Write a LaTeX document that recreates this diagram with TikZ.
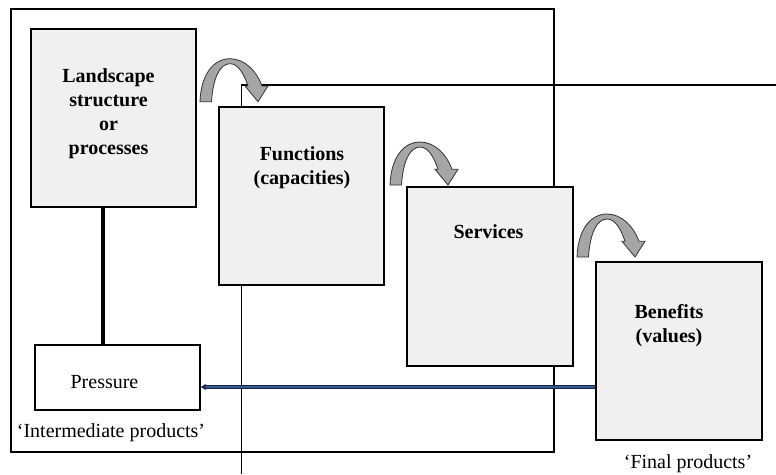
\documentclass[tikz,border=0pt]{standalone}
\usepackage{fontspec}
\setmainfont{Liberation Serif}
\usepackage{tikz}
\usetikzlibrary{positioning}
\usetikzlibrary{arrows.meta}

\definecolor{boxgray}{RGB}{240,240,240}
\definecolor{bendgray}{RGB}{165,165,165}
\definecolor{flownavy}{RGB}{25,35,70}
\definecolor{flowblue}{RGB}{50,90,165}

\begin{document}
\begin{tikzpicture}
    [x=1pt, y=-1pt,
    every node/.style={font=\fontsize{20}{24}\selectfont, inner sep=0pt},
    frame/.style={draw=black, line width=1.1pt},
    box/.style={draw=black, fill=boxgray, line width=1.3pt, rectangle},
    plainbox/.style={draw=black, fill=white, line width=1.3pt, rectangle},
    stem/.style={draw=black, line width=3.2pt},
    flow/.style={draw=flownavy, double=flowblue, double distance=1.6pt,
        line width=1.2pt, -{Latex[length=5pt, width=7pt]}},
    lbl/.style={align=center, font=\fontsize{20}{24}\selectfont\bfseries},
    bendarrow/.pic={
        \filldraw[fill=bendgray, draw=black!80, line width=0.8pt]
            (0,0) .. controls (1,-28) and (14,-43) .. (30,-43)
            .. controls (45,-43) and (57,-30) .. (62,-15.7)
            -- (68,-15.7) -- (58,0) -- (45,-15.7) -- (48,-15.7)
            .. controls (44,-28) and (38,-38) .. (30,-38)
            .. controls (20,-38) and (13,-24) .. (11.5,0) -- cycle;
    }]

    \useasboundingbox (0,0) rectangle (776,474);

    % the two frames
    \draw[frame] (11,9) rectangle (554,452);
    \coordinate (frcorner) at (241.5,85);
    \draw[frame] (776,85) -- (frcorner) -- (241.5,474);

    % the boxes
    \node[box, minimum width=165pt, minimum height=178pt] (land) at (113.5,118) {};
    \node[box, minimum width=165pt, minimum height=178pt] (func) at (301.5,196) {};
    \node[box, minimum width=166pt, minimum height=179pt] (serv) at (490,276.5) {};
    \node[box, minimum width=166pt, minimum height=178pt] (ben) at (679,351) {};
    \node[plainbox, minimum width=165pt, minimum height=65pt] (press) at (117.5,377.5) {};

    \node[lbl, anchor=north] (landtxt) at (108.5,68.4) {Landscape\\structure\\or\\processes};
    \node[lbl, anchor=north] (functxt) at (302,146.4) {Functions\\(capacities)};
    \node[lbl, anchor=north] (servtxt) at (488.5,224.4) {Services};
    \node[lbl, anchor=north] (bentxt) at (669,304.4) {Benefits\\(values)};
    \node[anchor=base] (presstxt) at (104.5,388) {Pressure};

    \node[anchor=base] (intertxt) at (111,437) {‘Intermediate products’};
    \node[anchor=base] (finaltxt) at (688,468) {‘Final products’};

    % links
    \coordinate (stemx) at (103,0);
    \draw[stem] (land.south -| stemx) -- (press.north -| stemx);

    \pic at (200,101.7) {bendarrow};
    \pic at (390,185) {bendarrow};
    \pic at (577,257) {bendarrow};

    \coordinate (flowy) at (0,387);
    \draw[flow] (ben.west |- flowy) -- (press.east |- flowy);

\end{tikzpicture}
\end{document}
